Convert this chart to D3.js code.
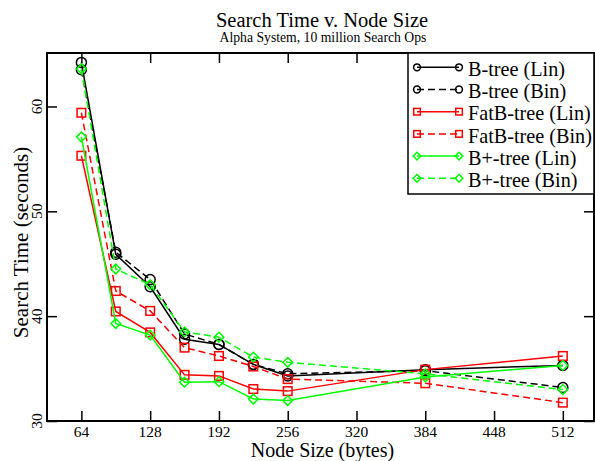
<!DOCTYPE html>
<html>
<head>
<meta charset="utf-8">
<script src="https://cdn.jsdelivr.net/npm/d3@7/dist/d3.min.js"></script>
<style>
  html, body { margin: 0; padding: 0; background: #fff; }
  svg { display: block; font-family: "Liberation Serif", "Times New Roman", serif; }
</style>
</head>
<body>
<svg id="chart" width="595" height="461"></svg>
<script>
// Node sizes (bytes) and search times (seconds)
const nodeSizes = [64, 96, 128, 160, 192, 224, 256, 384, 512];
const btreeLin  = [64.2, 45.9, 42.8, 37.8, 37.3, 35.4, 34.3, 34.9, 35.3];
const btreeBin  = [63.5, 46.1, 43.5, 38.3, 37.3, 35.4, 34.5, 34.8, 33.2];
const fatbLin   = [55.3, 40.45, 38.45, 34.4, 34.3, 33.05, 32.85, 34.9, 36.2];
const fatbBin   = [59.4, 42.4, 40.5, 37.0, 36.2, 35.2, 34.0, 33.6, 31.75];
const bplusLin  = [57.1, 39.3, 38.2, 33.7, 33.75, 32.1, 31.95, 34.2, 35.3];
const bplusBin  = [63.6, 44.5, 43.0, 38.5, 38.0, 36.1, 35.6, 34.5, 33.0];

const xTicks = [64, 128, 192, 256, 320, 384, 448, 512];
const yTicks = [30, 40, 50, 60];

const seriesNames  = ["B-tree (Lin)", "B-tree (Bin)", "FatB-tree (Lin)", "FatB-tree (Bin)", "B+-tree (Lin)", "B+-tree (Bin)"];
const seriesValues = [btreeLin, btreeBin, fatbLin, fatbBin, bplusLin, bplusBin];

const colors  = ["#000000", "#000000", "#ff0000", "#ff0000", "#00ff00", "#00ff00"];
const dashes  = [null, "7,4", null, "7,4", null, "7,4"];
const symbols = ["circle", "circle", "square", "square", "diamond", "diamond"];

const series = seriesNames.map((name, i) => ({
  name,
  color: colors[i],
  dash: dashes[i],
  symbol: symbols[i],
  points: nodeSizes.map((x, j) => ({ x, y: seriesValues[i][j] }))
}));

const svg = d3.select("#chart");
const plotLeft = 47, plotRight = 594, plotTop = 53, plotBottom = 421;

const x = d3.scaleLinear().domain([32, 541]).range([plotLeft, plotRight]);
const y = d3.scaleLinear().domain([30, 65.1]).range([plotBottom, plotTop]);

// Marker shapes
function marker(g, kind, cx, cy, s, color) {
  if (kind === "circle") {
    g.append("circle").attr("cx", cx).attr("cy", cy).attr("r", s)
      .attr("fill", "none").attr("stroke", color).attr("stroke-width", 1.5);
  } else if (kind === "square") {
    g.append("rect").attr("x", cx - s).attr("y", cy - s)
      .attr("width", 2 * s).attr("height", 2 * s)
      .attr("fill", "none").attr("stroke", color).attr("stroke-width", 1.5);
  } else {
    const d = s * 1.1;
    g.append("path")
      .attr("d", `M${cx},${cy - d}L${cx + d},${cy}L${cx},${cy + d}L${cx - d},${cy}Z`)
      .attr("fill", "none").attr("stroke", color).attr("stroke-width", 1.5);
  }
}

// Clip region for data
svg.append("defs").append("clipPath").attr("id", "plot-clip")
  .append("rect").attr("x", plotLeft).attr("y", plotTop)
  .attr("width", plotRight - plotLeft).attr("height", plotBottom - plotTop);

const plot = svg.append("g").attr("clip-path", "url(#plot-clip)");

const line = d3.line().x(d => x(d.x)).y(d => y(d.y));

series.forEach(s => {
  const g = plot.append("g");
  g.append("path")
    .attr("d", line(s.points))
    .attr("fill", "none")
    .attr("stroke", s.color)
    .attr("stroke-width", 1.5)
    .attr("stroke-dasharray", s.dash);
  s.points.forEach(p => {
    const size = s.symbol === "circle" ? 5 : (s.symbol === "square" ? 4.3 : 4.4);
    marker(g, s.symbol, x(p.x), y(p.y), size, s.color);
  });
});

// Axes with inward ticks on all four sides
const axisStyle = g => {
  g.select(".domain").remove();
  g.selectAll(".tick line").attr("stroke", "#000").attr("stroke-width", 1.5);
};

svg.append("g").attr("transform", `translate(0,${plotBottom})`)
  .call(d3.axisTop(x).tickValues(xTicks).tickSize(10).tickFormat(""))
  .call(axisStyle);
svg.append("g").attr("transform", `translate(0,${plotTop})`)
  .call(d3.axisBottom(x).tickValues(xTicks).tickSize(10).tickFormat(""))
  .call(axisStyle);
svg.append("g").attr("transform", `translate(${plotLeft},0)`)
  .call(d3.axisRight(y).tickValues(yTicks).tickSize(10).tickFormat(""))
  .call(axisStyle);
svg.append("g").attr("transform", `translate(${plotRight},0)`)
  .call(d3.axisLeft(y).tickValues(yTicks).tickSize(10).tickFormat(""))
  .call(axisStyle);

// X tick labels
svg.append("g").selectAll("text").data(xTicks).join("text")
  .attr("x", d => x(d)).attr("y", 436.5)
  .attr("text-anchor", "middle")
  .attr("font-size", 15.5)
  .text(d => d);

// Y tick labels (rotated)
svg.append("g").selectAll("text").data(yTicks).join("text")
  .attr("transform", d => `translate(41.5,${y(d)}) rotate(-90)`)
  .attr("text-anchor", "middle")
  .attr("font-size", 15.5)
  .text(d => d);

// Frame
svg.append("rect")
  .attr("x", plotLeft).attr("y", plotTop)
  .attr("width", plotRight - plotLeft).attr("height", plotBottom - plotTop)
  .attr("fill", "none").attr("stroke", "#000").attr("stroke-width", 2);

// Titles
svg.append("text").attr("x", 322).attr("y", 26.5)
  .attr("text-anchor", "middle").attr("font-size", 20.5)
  .text("Search Time v. Node Size");
svg.append("text").attr("x", 323).attr("y", 41.5)
  .attr("text-anchor", "middle").attr("font-size", 13.7)
  .text("Alpha System, 10 million Search Ops");

// Axis titles
svg.append("text").attr("x", 322.5).attr("y", 457)
  .attr("text-anchor", "middle").attr("font-size", 20)
  .text("Node Size (bytes)");
svg.append("text")
  .attr("transform", `translate(27.5,242.5) rotate(-90)`)
  .attr("text-anchor", "middle").attr("font-size", 21)
  .text("Search Time (seconds)");

// Legend
const legend = svg.append("g");
legend.append("rect")
  .attr("x", 408).attr("y", plotTop)
  .attr("width", plotRight - 408).attr("height", 194 - plotTop)
  .attr("fill", "#fff").attr("stroke", "#000").attr("stroke-width", 1.5);

series.forEach((s, i) => {
  const cy = 67.3 + 22.2 * i;
  const g = legend.append("g");
  g.append("line")
    .attr("x1", 417).attr("x2", 459).attr("y1", cy).attr("y2", cy)
    .attr("stroke", s.color).attr("stroke-width", 1.5)
    .attr("stroke-dasharray", s.dash);
  const size = s.symbol === "circle" ? 3.4 : (s.symbol === "square" ? 3.3 : 3.5);
  marker(g, s.symbol, 417, cy, size, s.color);
  marker(g, s.symbol, 459, cy, size, s.color);
  g.append("text").attr("x", 468).attr("y", cy + 8.6)
    .attr("font-size", 20.2).text(s.name);
});
</script>
</body>
</html>
